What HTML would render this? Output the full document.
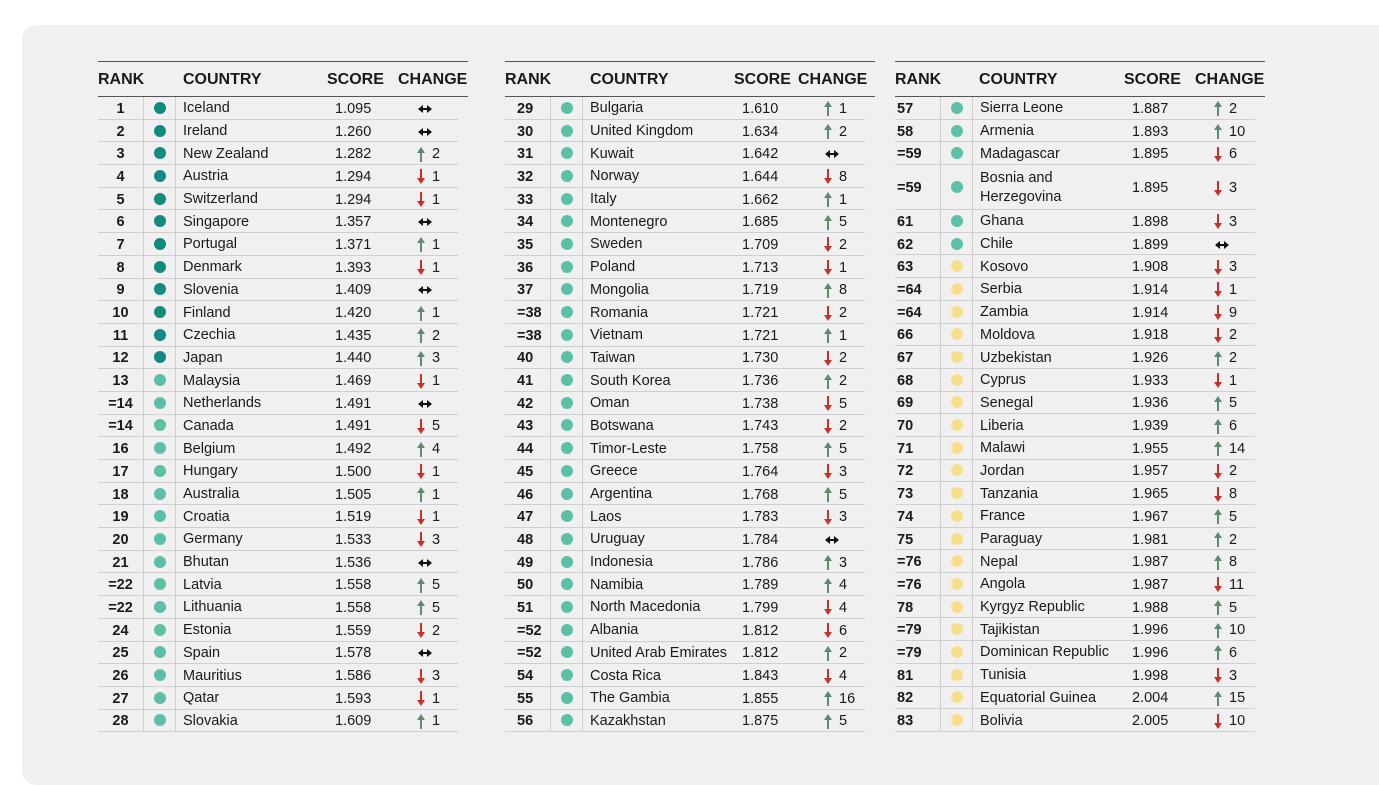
<!DOCTYPE html>
<html><head><meta charset="utf-8"><style>
*{margin:0;padding:0;box-sizing:border-box}
body{width:1379px;height:764px;background:#fff;position:relative;overflow:hidden;font-family:"Liberation Sans",Arial,sans-serif;color:#1a1a1a}
.panel{position:absolute;left:22px;top:25px;width:1380px;height:760px;background:#f0f0f1;border-radius:14px}
.t{position:absolute;top:61px;width:370px}
.h{height:36px;border-top:1.5px solid #555;border-bottom:1.5px solid #555;position:relative;font-weight:bold;font-size:16px}
.h span{position:absolute;top:9px}
.r{width:360px;height:22.7px;border-bottom:1.5px solid #cfcfd1;display:grid;grid-template-columns:46px 32px 159px 80px 1fr;align-items:center;font-size:14.5px}
.r>div{height:100%;display:flex;align-items:center;padding-top:2px}
.r>div:nth-child(1){font-weight:bold;border-right:1.5px solid #cfcfd1}
.r>div:nth-child(2){border-right:1.5px solid #cfcfd1;justify-content:center;padding-top:0}
.r>div:nth-child(3){padding-left:7px;line-height:19px}
.c1 .r>div:nth-child(1){justify-content:center}
.c2 .r>div:nth-child(1){padding-left:12px}
.c3 .r>div:nth-child(1){padding-left:2px}
.d{width:12px;height:12px;border-radius:50%;display:inline-block}
.a .d{background:#128a7e}.b .d{background:#5cc0a8}.y .d{background:#f7df8c}
.u,.w{display:inline-block;width:8px;height:15px;margin-right:7px;margin-left:2px;position:relative}
.u:before,.w:before{content:"";position:absolute;left:3px;width:2px;height:11px}
.u:after,.w:after{content:"";position:absolute;left:0;border-left:4px solid transparent;border-right:4px solid transparent}
.u:before{top:4px;background:#5d8b6f}.u:after{top:0;border-bottom:6px solid #5d8b6f}
.w:before{top:0;background:#c4322a}.w:after{bottom:0;border-top:6px solid #c4322a}
.e{display:inline-block;width:14px;height:8px;position:relative;margin-left:3px}
.e:before{content:"";position:absolute;left:3px;right:3px;top:3px;height:2px;background:#111}
.e:after{content:"";position:absolute;left:0;right:0;top:0;height:0;border-top:4px solid transparent;border-bottom:4px solid transparent;border-left:0}
.e i{position:absolute;top:0;border-top:4px solid transparent;border-bottom:4px solid transparent}
.e i:first-child{left:0;border-right:5px solid #111}
.e i:last-child{right:0;border-left:5px solid #111}
.tall{height:45px}
</style></head><body>
<div class="panel"></div>

<div class="t c1" style="left:98px">
<div class="h"><span style="left:0">RANK</span><span style="left:85px">COUNTRY</span><span style="left:229px">SCORE</span><span style="left:300px">CHANGE</span></div>
<div class="r a"><div>1</div><div><span class="d"></span></div><div>Iceland</div><div>1.095</div><div><span class="e"><i></i><i></i></span></div></div>
<div class="r a"><div>2</div><div><span class="d"></span></div><div>Ireland</div><div>1.260</div><div><span class="e"><i></i><i></i></span></div></div>
<div class="r a"><div>3</div><div><span class="d"></span></div><div>New Zealand</div><div>1.282</div><div><span class="u"></span>2</div></div>
<div class="r a"><div>4</div><div><span class="d"></span></div><div>Austria</div><div>1.294</div><div><span class="w"></span>1</div></div>
<div class="r a"><div>5</div><div><span class="d"></span></div><div>Switzerland</div><div>1.294</div><div><span class="w"></span>1</div></div>
<div class="r a"><div>6</div><div><span class="d"></span></div><div>Singapore</div><div>1.357</div><div><span class="e"><i></i><i></i></span></div></div>
<div class="r a"><div>7</div><div><span class="d"></span></div><div>Portugal</div><div>1.371</div><div><span class="u"></span>1</div></div>
<div class="r a"><div>8</div><div><span class="d"></span></div><div>Denmark</div><div>1.393</div><div><span class="w"></span>1</div></div>
<div class="r a"><div>9</div><div><span class="d"></span></div><div>Slovenia</div><div>1.409</div><div><span class="e"><i></i><i></i></span></div></div>
<div class="r a"><div>10</div><div><span class="d"></span></div><div>Finland</div><div>1.420</div><div><span class="u"></span>1</div></div>
<div class="r a"><div>11</div><div><span class="d"></span></div><div>Czechia</div><div>1.435</div><div><span class="u"></span>2</div></div>
<div class="r a"><div>12</div><div><span class="d"></span></div><div>Japan</div><div>1.440</div><div><span class="u"></span>3</div></div>
<div class="r b"><div>13</div><div><span class="d"></span></div><div>Malaysia</div><div>1.469</div><div><span class="w"></span>1</div></div>
<div class="r b"><div>=14</div><div><span class="d"></span></div><div>Netherlands</div><div>1.491</div><div><span class="e"><i></i><i></i></span></div></div>
<div class="r b"><div>=14</div><div><span class="d"></span></div><div>Canada</div><div>1.491</div><div><span class="w"></span>5</div></div>
<div class="r b"><div>16</div><div><span class="d"></span></div><div>Belgium</div><div>1.492</div><div><span class="u"></span>4</div></div>
<div class="r b"><div>17</div><div><span class="d"></span></div><div>Hungary</div><div>1.500</div><div><span class="w"></span>1</div></div>
<div class="r b"><div>18</div><div><span class="d"></span></div><div>Australia</div><div>1.505</div><div><span class="u"></span>1</div></div>
<div class="r b"><div>19</div><div><span class="d"></span></div><div>Croatia</div><div>1.519</div><div><span class="w"></span>1</div></div>
<div class="r b"><div>20</div><div><span class="d"></span></div><div>Germany</div><div>1.533</div><div><span class="w"></span>3</div></div>
<div class="r b"><div>21</div><div><span class="d"></span></div><div>Bhutan</div><div>1.536</div><div><span class="e"><i></i><i></i></span></div></div>
<div class="r b"><div>=22</div><div><span class="d"></span></div><div>Latvia</div><div>1.558</div><div><span class="u"></span>5</div></div>
<div class="r b"><div>=22</div><div><span class="d"></span></div><div>Lithuania</div><div>1.558</div><div><span class="u"></span>5</div></div>
<div class="r b"><div>24</div><div><span class="d"></span></div><div>Estonia</div><div>1.559</div><div><span class="w"></span>2</div></div>
<div class="r b"><div>25</div><div><span class="d"></span></div><div>Spain</div><div>1.578</div><div><span class="e"><i></i><i></i></span></div></div>
<div class="r b"><div>26</div><div><span class="d"></span></div><div>Mauritius</div><div>1.586</div><div><span class="w"></span>3</div></div>
<div class="r b"><div>27</div><div><span class="d"></span></div><div>Qatar</div><div>1.593</div><div><span class="w"></span>1</div></div>
<div class="r b"><div>28</div><div><span class="d"></span></div><div>Slovakia</div><div>1.609</div><div><span class="u"></span>1</div></div>
</div>

<div class="t c2" style="left:505px">
<div class="h"><span style="left:0">RANK</span><span style="left:85px">COUNTRY</span><span style="left:229px">SCORE</span><span style="left:293px">CHANGE</span></div>
<div class="r b"><div>29</div><div><span class="d"></span></div><div>Bulgaria</div><div>1.610</div><div><span class="u"></span>1</div></div>
<div class="r b"><div>30</div><div><span class="d"></span></div><div>United Kingdom</div><div>1.634</div><div><span class="u"></span>2</div></div>
<div class="r b"><div>31</div><div><span class="d"></span></div><div>Kuwait</div><div>1.642</div><div><span class="e"><i></i><i></i></span></div></div>
<div class="r b"><div>32</div><div><span class="d"></span></div><div>Norway</div><div>1.644</div><div><span class="w"></span>8</div></div>
<div class="r b"><div>33</div><div><span class="d"></span></div><div>Italy</div><div>1.662</div><div><span class="u"></span>1</div></div>
<div class="r b"><div>34</div><div><span class="d"></span></div><div>Montenegro</div><div>1.685</div><div><span class="u"></span>5</div></div>
<div class="r b"><div>35</div><div><span class="d"></span></div><div>Sweden</div><div>1.709</div><div><span class="w"></span>2</div></div>
<div class="r b"><div>36</div><div><span class="d"></span></div><div>Poland</div><div>1.713</div><div><span class="w"></span>1</div></div>
<div class="r b"><div>37</div><div><span class="d"></span></div><div>Mongolia</div><div>1.719</div><div><span class="u"></span>8</div></div>
<div class="r b"><div>=38</div><div><span class="d"></span></div><div>Romania</div><div>1.721</div><div><span class="w"></span>2</div></div>
<div class="r b"><div>=38</div><div><span class="d"></span></div><div>Vietnam</div><div>1.721</div><div><span class="u"></span>1</div></div>
<div class="r b"><div>40</div><div><span class="d"></span></div><div>Taiwan</div><div>1.730</div><div><span class="w"></span>2</div></div>
<div class="r b"><div>41</div><div><span class="d"></span></div><div>South Korea</div><div>1.736</div><div><span class="u"></span>2</div></div>
<div class="r b"><div>42</div><div><span class="d"></span></div><div>Oman</div><div>1.738</div><div><span class="w"></span>5</div></div>
<div class="r b"><div>43</div><div><span class="d"></span></div><div>Botswana</div><div>1.743</div><div><span class="w"></span>2</div></div>
<div class="r b"><div>44</div><div><span class="d"></span></div><div>Timor-Leste</div><div>1.758</div><div><span class="u"></span>5</div></div>
<div class="r b"><div>45</div><div><span class="d"></span></div><div>Greece</div><div>1.764</div><div><span class="w"></span>3</div></div>
<div class="r b"><div>46</div><div><span class="d"></span></div><div>Argentina</div><div>1.768</div><div><span class="u"></span>5</div></div>
<div class="r b"><div>47</div><div><span class="d"></span></div><div>Laos</div><div>1.783</div><div><span class="w"></span>3</div></div>
<div class="r b"><div>48</div><div><span class="d"></span></div><div>Uruguay</div><div>1.784</div><div><span class="e"><i></i><i></i></span></div></div>
<div class="r b"><div>49</div><div><span class="d"></span></div><div>Indonesia</div><div>1.786</div><div><span class="u"></span>3</div></div>
<div class="r b"><div>50</div><div><span class="d"></span></div><div>Namibia</div><div>1.789</div><div><span class="u"></span>4</div></div>
<div class="r b"><div>51</div><div><span class="d"></span></div><div>North Macedonia</div><div>1.799</div><div><span class="w"></span>4</div></div>
<div class="r b"><div>=52</div><div><span class="d"></span></div><div>Albania</div><div>1.812</div><div><span class="w"></span>6</div></div>
<div class="r b"><div>=52</div><div><span class="d"></span></div><div style="white-space:nowrap">United Arab Emirates</div><div>1.812</div><div><span class="u"></span>2</div></div>
<div class="r b"><div>54</div><div><span class="d"></span></div><div>Costa Rica</div><div>1.843</div><div><span class="w"></span>4</div></div>
<div class="r b"><div>55</div><div><span class="d"></span></div><div>The Gambia</div><div>1.855</div><div><span class="u"></span>16</div></div>
<div class="r b"><div>56</div><div><span class="d"></span></div><div>Kazakhstan</div><div>1.875</div><div><span class="u"></span>5</div></div>
</div>

<div class="t c3" style="left:895px">
<div class="h"><span style="left:0">RANK</span><span style="left:84px">COUNTRY</span><span style="left:229px">SCORE</span><span style="left:300px">CHANGE</span></div>
<div class="r b"><div>57</div><div><span class="d"></span></div><div>Sierra Leone</div><div>1.887</div><div><span class="u"></span>2</div></div>
<div class="r b"><div>58</div><div><span class="d"></span></div><div>Armenia</div><div>1.893</div><div><span class="u"></span>10</div></div>
<div class="r b"><div>=59</div><div><span class="d"></span></div><div>Madagascar</div><div>1.895</div><div><span class="w"></span>6</div></div>
<div class="r b tall"><div>=59</div><div><span class="d"></span></div><div>Bosnia and<br>Herzegovina</div><div>1.895</div><div><span class="w"></span>3</div></div>
<div class="r b"><div>61</div><div><span class="d"></span></div><div>Ghana</div><div>1.898</div><div><span class="w"></span>3</div></div>
<div class="r b"><div>62</div><div><span class="d"></span></div><div>Chile</div><div>1.899</div><div><span class="e"><i></i><i></i></span></div></div>
<div class="r y"><div>63</div><div><span class="d"></span></div><div>Kosovo</div><div>1.908</div><div><span class="w"></span>3</div></div>
<div class="r y"><div>=64</div><div><span class="d"></span></div><div>Serbia</div><div>1.914</div><div><span class="w"></span>1</div></div>
<div class="r y"><div>=64</div><div><span class="d"></span></div><div>Zambia</div><div>1.914</div><div><span class="w"></span>9</div></div>
<div class="r y"><div>66</div><div><span class="d"></span></div><div>Moldova</div><div>1.918</div><div><span class="w"></span>2</div></div>
<div class="r y"><div>67</div><div><span class="d"></span></div><div>Uzbekistan</div><div>1.926</div><div><span class="u"></span>2</div></div>
<div class="r y"><div>68</div><div><span class="d"></span></div><div>Cyprus</div><div>1.933</div><div><span class="w"></span>1</div></div>
<div class="r y"><div>69</div><div><span class="d"></span></div><div>Senegal</div><div>1.936</div><div><span class="u"></span>5</div></div>
<div class="r y"><div>70</div><div><span class="d"></span></div><div>Liberia</div><div>1.939</div><div><span class="u"></span>6</div></div>
<div class="r y"><div>71</div><div><span class="d"></span></div><div>Malawi</div><div>1.955</div><div><span class="u"></span>14</div></div>
<div class="r y"><div>72</div><div><span class="d"></span></div><div>Jordan</div><div>1.957</div><div><span class="w"></span>2</div></div>
<div class="r y"><div>73</div><div><span class="d"></span></div><div>Tanzania</div><div>1.965</div><div><span class="w"></span>8</div></div>
<div class="r y"><div>74</div><div><span class="d"></span></div><div>France</div><div>1.967</div><div><span class="u"></span>5</div></div>
<div class="r y"><div>75</div><div><span class="d"></span></div><div>Paraguay</div><div>1.981</div><div><span class="u"></span>2</div></div>
<div class="r y"><div>=76</div><div><span class="d"></span></div><div>Nepal</div><div>1.987</div><div><span class="u"></span>8</div></div>
<div class="r y"><div>=76</div><div><span class="d"></span></div><div>Angola</div><div>1.987</div><div><span class="w"></span>11</div></div>
<div class="r y"><div>78</div><div><span class="d"></span></div><div>Kyrgyz Republic</div><div>1.988</div><div><span class="u"></span>5</div></div>
<div class="r y"><div>=79</div><div><span class="d"></span></div><div>Tajikistan</div><div>1.996</div><div><span class="u"></span>10</div></div>
<div class="r y"><div>=79</div><div><span class="d"></span></div><div style="white-space:nowrap">Dominican Republic</div><div>1.996</div><div><span class="u"></span>6</div></div>
<div class="r y"><div>81</div><div><span class="d"></span></div><div>Tunisia</div><div>1.998</div><div><span class="w"></span>3</div></div>
<div class="r y"><div>82</div><div><span class="d"></span></div><div>Equatorial Guinea</div><div>2.004</div><div><span class="u"></span>15</div></div>
<div class="r y"><div>83</div><div><span class="d"></span></div><div>Bolivia</div><div>2.005</div><div><span class="w"></span>10</div></div>
</div>
</body></html>
